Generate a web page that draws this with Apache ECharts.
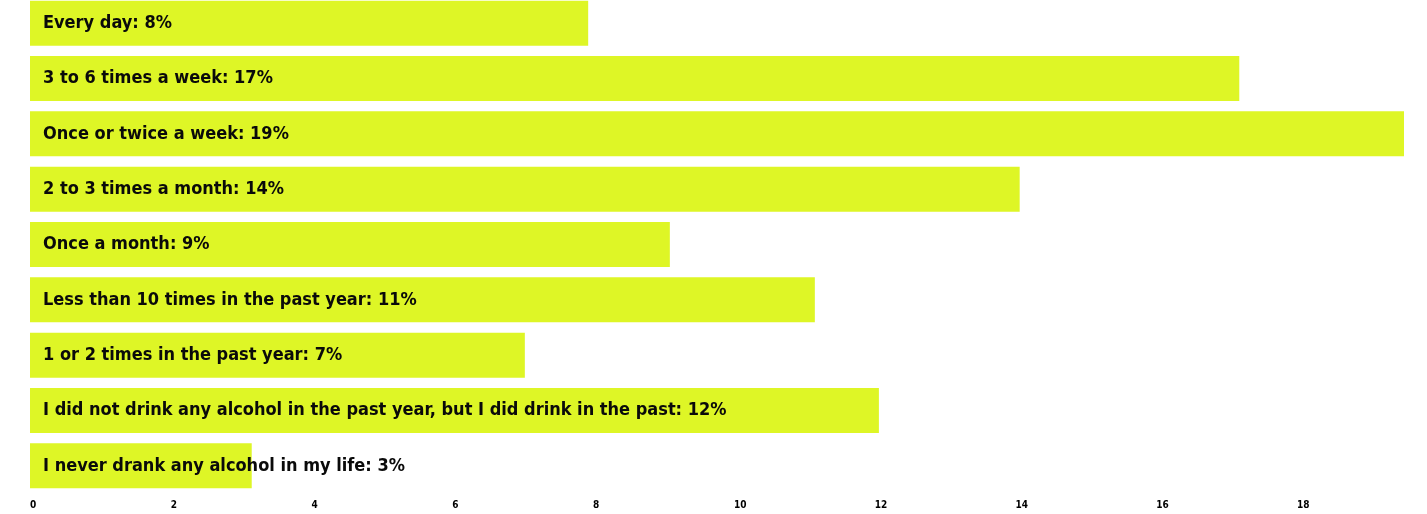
<!DOCTYPE html>
<html>
<head>
<meta charset="utf-8">
<script src="https://cdn.jsdelivr.net/npm/echarts@6/dist/echarts.min.js"></script>
<style>
  html, body { margin: 0; padding: 0; background: #fff; }
  #chart { width: 1427px; height: 514px; }
</style>
</head>
<body>
<div id="chart"></div>
<script>
// answers, top to bottom
var categories = [
  "Every day",
  "3 to 6 times a week",
  "Once or twice a week",
  "2 to 3 times a month",
  "Once a month",
  "Less than 10 times in the past year",
  "1 or 2 times in the past year",
  "I did not drink any alcohol in the past year, but I did drink in the past",
  "I never drank any alcohol in my life"
];
// bar lengths (percent)
var values = [7.93, 17.18, 19.52, 14.06, 9.09, 11.15, 7.03, 12.06, 3.15];
// rounded percent shown in the labels
var shown = [8, 17, 19, 14, 9, 11, 7, 12, 3];

var chart = echarts.init(document.getElementById("chart"));
var font = '"Liberation Sans Narrow", "DejaVu Sans Condensed", "Roboto", sans-serif';

var option = {
  animation: false,
  grid: {
    left: 30,
    right: 23,
    top: -4.5,
    bottom: 20.5,
    outerBoundsMode: "none",
    containLabel: false
  },
  xAxis: {
    type: "value",
    min: 0,
    max: "dataMax",
    interval: 2,
    splitLine: { show: false },
    axisLine: { show: false },
    axisTick: { show: false },
    axisLabel: {
      showMaxLabel: false,
      align: "left",
      margin: 7,
      color: "#000",
      fontFamily: font,
      fontWeight: "bold",
      fontSize: 10
    }
  },
  yAxis: {
    type: "category",
    inverse: true,
    data: categories,
    show: false
  },
  series: [
    {
      type: "bar",
      data: values,
      barWidth: 45,
      itemStyle: { color: "#DEF626" },
      label: {
        show: true,
        position: "insideLeft",
        distance: 13,
        color: "#0a0a0a",
        fontFamily: font,
        fontWeight: "bold",
        fontSize: 18,
        formatter: function (p) {
          return categories[p.dataIndex] + ": " + shown[p.dataIndex] + "%";
        }
      }
    }
  ]
};

chart.setOption(option);
</script>
</body>
</html>
